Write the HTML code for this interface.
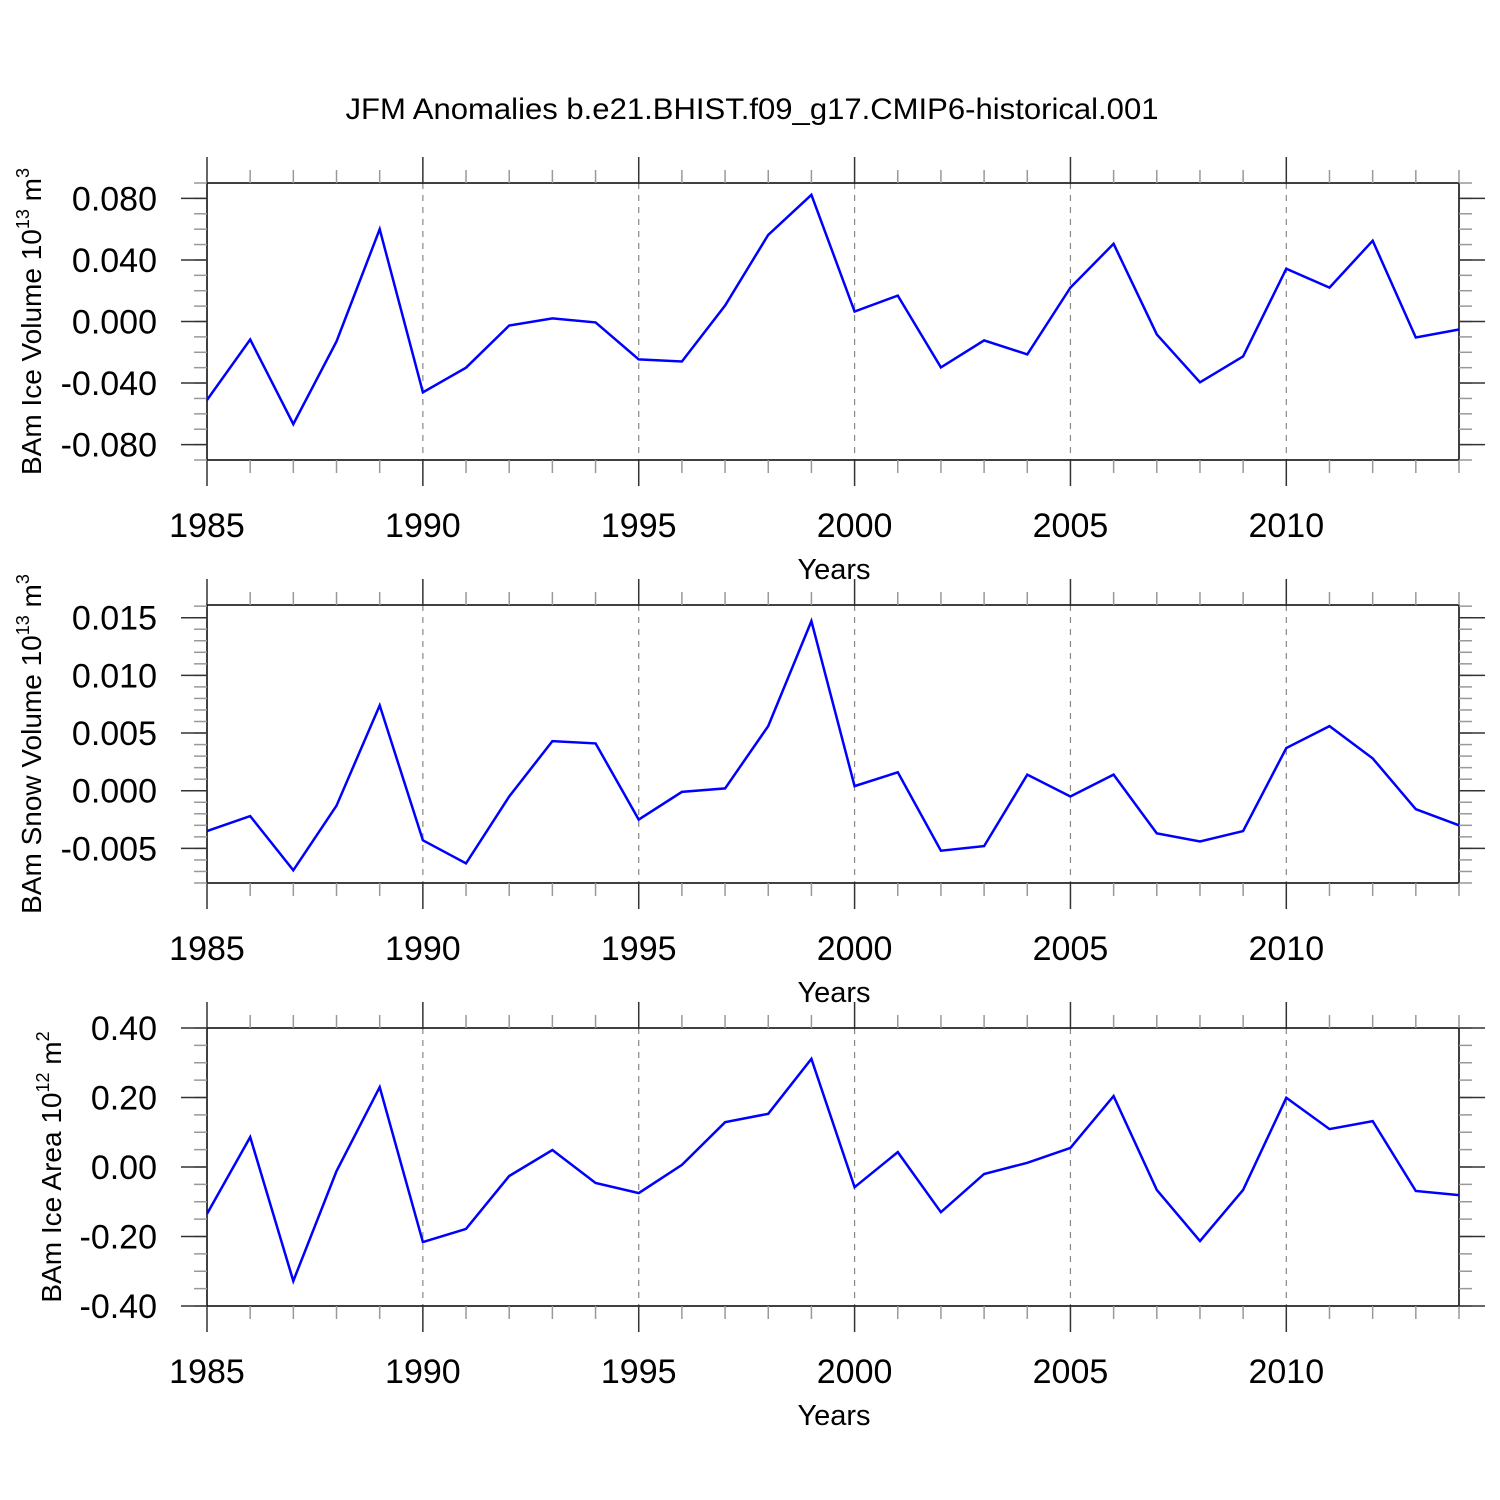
<!DOCTYPE html>
<html><head><meta charset="utf-8"><style>
html,body{margin:0;padding:0;background:#fff;}
svg{display:block;font-family:"Liberation Sans",sans-serif;}
</style></head><body>
<svg id="chart" width="1500" height="1500" viewBox="0 0 1500 1500" xmlns="http://www.w3.org/2000/svg">
<text x="752" y="119" font-size="30" text-anchor="middle" textLength="813" lengthAdjust="spacingAndGlyphs">JFM Anomalies b.e21.BHIST.f09_g17.CMIP6-historical.001</text>
</svg>
<script>
const years = [1985,1986,1987,1988,1989,1990,1991,1992,1993,1994,1995,1996,1997,1998,1999,2000,2001,2002,2003,2004,2005,2006,2007,2008,2009,2010,2011,2012,2013,2014];
const iceVolume = [-0.051,-0.0117,-0.0667,-0.013,0.060,-0.046,-0.030,-0.0026,0.002,-0.0006,-0.0246,-0.026,0.0104,0.0563,0.0823,0.0065,0.0168,-0.0298,-0.0123,-0.0214,0.022,0.0505,-0.0084,-0.0395,-0.0227,0.0343,0.022,0.0525,-0.0104,-0.0052];
const snowVolume = [-0.0035,-0.0022,-0.0069,-0.0013,0.0074,-0.0043,-0.0063,-0.0005,0.0043,0.0041,-0.0025,-0.0001,0.0002,0.0056,0.0147,0.0004,0.0016,-0.0052,-0.0048,0.0014,-0.0005,0.0014,-0.0037,-0.0044,-0.0035,0.0037,0.0056,0.0028,-0.0016,-0.003];
const iceArea = [-0.135,0.086,-0.328,-0.012,0.230,-0.216,-0.178,-0.026,0.049,-0.046,-0.075,0.006,0.129,0.153,0.311,-0.058,0.043,-0.130,-0.020,0.012,0.055,0.204,-0.066,-0.213,-0.066,0.199,0.109,0.132,-0.069,-0.081];
const xTickLabels = ["1985","1990","1995","2000","2005","2010"];
const iceVolTicks = ["0.080","0.040","0.000","-0.040","-0.080"];
const snowVolTicks = ["0.015","0.010","0.005","0.000","-0.005"];
const iceAreaTicks = ["0.40","0.20","0.00","-0.20","-0.40"];

const NS="http://www.w3.org/2000/svg";
const svg=document.getElementById('chart');
function mk(tag,attrs,parent){const e=document.createElementNS(NS,tag);for(const k in attrs)e.setAttribute(k,attrs[k]);(parent||svg).appendChild(e);return e;}
const L=207,R=1459;
const xS=y=>L+(y-1985)/(2014-1985)*(R-L);

const panels=[
 {name:'ice-volume',top:183,bot:460,min:-0.09,max:0.09,vals:iceVolume,ticks:iceVolTicks,minor:0.01,title:'BAm Ice Volume 10',sup:'13',unit:' m',usup:'3',tx:41},
 {name:'snow-volume',top:605,bot:883,min:-0.008,max:0.0161,vals:snowVolume,ticks:snowVolTicks,minor:0.001,title:'BAm Snow Volume 10',sup:'13',unit:' m',usup:'3',tx:41},
 {name:'ice-area',top:1028,bot:1306,min:-0.4,max:0.4,vals:iceArea,ticks:iceAreaTicks,minor:0.05,title:'BAm Ice Area 10',sup:'12',unit:' m',usup:'2',tx:61}
];
panels.forEach(p=>{
 const g=mk('g',{});
 
 
 const yS=v=>p.bot-(v-p.min)/(p.max-p.min)*(p.bot-p.top);
 for(let y=1990;y<=2010;y+=5){const l=mk('line',{x1:xS(y),x2:xS(y),y1:p.top,y2:p.bot,stroke:'#888','stroke-width':1.2,'stroke-dasharray':'6,6'},g);
  }
 const fr=mk('rect',{x:L,y:p.top,width:R-L,height:p.bot-p.top,fill:'none',stroke:'#000','stroke-width':1.5},g);
 
 for(let y=1985;y<=2014;y++){const maj=(y%5===0);const len=maj?26:13;const x=xS(y);
  mk('line',{x1:x,x2:x,y1:p.top,y2:p.top-len,stroke:maj?'#333':'#999','stroke-width':1.5},g);
  mk('line',{x1:x,x2:x,y1:p.bot,y2:p.bot+len,stroke:maj?'#333':'#999','stroke-width':1.5},g);}
 xTickLabels.forEach(t=>{const tx=mk('text',{x:xS(+t),y:p.bot+77,'font-size':34,'text-anchor':'middle'},g);tx.textContent=t;
  });
 const xt=mk('text',{x:834,y:p.bot+119,'font-size':29,'text-anchor':'middle'},g);xt.textContent='Years';
 
 const n0=Math.ceil(p.min/p.minor-1e-6),n1=Math.floor(p.max/p.minor+1e-6);
 for(let i=n0;i<=n1;i++){const y=yS(i*p.minor);
  mk('line',{x1:L,x2:L-13,y1:y,y2:y,stroke:'#999','stroke-width':1.5},g);
  mk('line',{x1:R,x2:R+13,y1:y,y2:y,stroke:'#999','stroke-width':1.5},g);}
 p.ticks.forEach(t=>{const y=yS(parseFloat(t));
  mk('line',{x1:L,x2:L-26,y1:y,y2:y,stroke:'#333','stroke-width':1.5},g);
  mk('line',{x1:R,x2:R+26,y1:y,y2:y,stroke:'#333','stroke-width':1.5},g);
  const tx=mk('text',{x:157,y:y+12,'font-size':34,'text-anchor':'end'},g);tx.textContent=t;
  });
 const cy=(p.top+p.bot)/2;
 const yt=mk('text',{transform:`translate(${p.tx},${cy}) rotate(-90)`,'font-size':28,'text-anchor':'middle'},g);
 
 yt.appendChild(document.createTextNode(p.title));
 const s1=mk('tspan',{'font-size':18,dy:-12},yt);s1.textContent=p.sup;
 const s2=mk('tspan',{dy:12},yt);s2.textContent=p.unit;
 const s3=mk('tspan',{'font-size':18,dy:-12},yt);s3.textContent=p.usup;
 const pts=years.map((y,i)=>xS(y).toFixed(1)+','+yS(p.vals[i]).toFixed(1)).join(' ');
 const pl=mk('polyline',{points:pts,fill:'none',stroke:'#0000ff','stroke-width':2.5,'stroke-linejoin':'miter'},g);
 
});
</script>
</body></html>
